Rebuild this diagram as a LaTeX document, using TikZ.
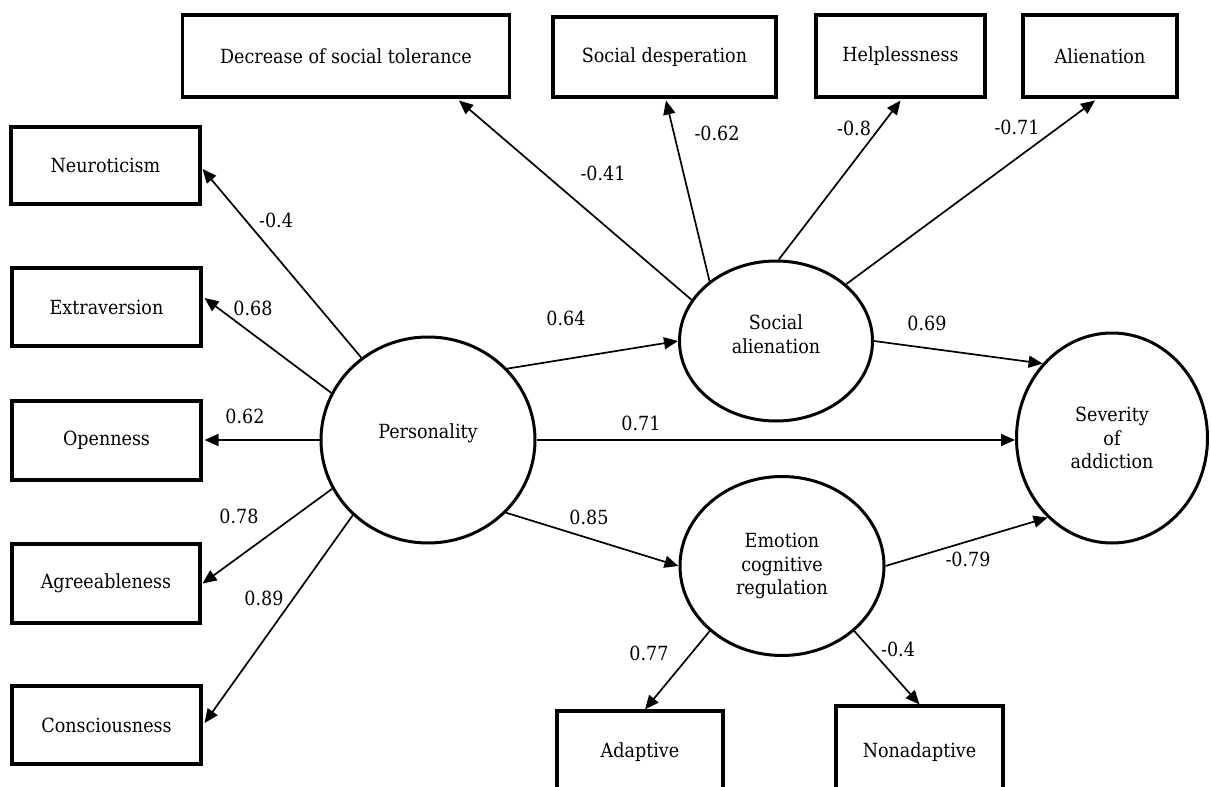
\documentclass[tikz,border=0pt]{standalone}
\usepackage{fontspec}
\setmainfont{DejaVu Serif Condensed}
\usetikzlibrary{shapes.geometric,arrows.meta,calc}
\begin{document}
\begin{tikzpicture}[x=1pt,y=-1pt,
  txt/.style={font=\fontsize{19.5}{23.5}\selectfont},
  box/.style={txt, draw, line width=3.1pt, inner sep=0pt},
  lat/.style={txt, draw, ellipse, line width=3pt, inner sep=0pt, align=center},
  arr/.style={line width=1.7pt, -{Triangle[length=14pt,width=12pt]}},
  lab/.style={txt, inner sep=0pt}]
\fill[white] (0,0) rectangle (1211,787);
\useasboundingbox (0,0) rectangle (1211,787);

% indicator boxes
\node[box, minimum width=189pt, minimum height=77pt] (neu) at (105.5,165.5) {Neuroticism};
\node[box, minimum width=189pt, minimum height=78pt] (ext) at (106.5,307) {Extraversion};
\node[box, minimum width=189pt, minimum height=79pt] (ope) at (106.5,440.5) {Openness};
\node[box, minimum width=188pt, minimum height=79pt] (agr) at (106,583.5) {Agreeableness};
\node[box, minimum width=189pt, minimum height=78pt] (con) at (106.5,725) {Consciousness};
\node[box, minimum width=327pt, minimum height=82pt] (dec) at (346,56) {Decrease of social tolerance};
\node[box, minimum width=223pt, minimum height=80pt] (sde) at (664.5,57) {Social desperation};
\node[box, minimum width=169pt, minimum height=82pt] (hel) at (900.5,56) {Helplessness};
\node[box, minimum width=154pt, minimum height=82pt] (ali) at (1100,56) {Alienation};
\node[box, minimum width=166pt, minimum height=82pt] (ada) at (640,752) {Adaptive};
\node[box, minimum width=167pt, minimum height=92pt] (non) at (919.5,752) {Nonadaptive};

% latent variables
\node[lat, minimum width=214pt, minimum height=206pt,
  label={[txt, yshift=7pt]center:Personality}] (per) at (428,440) {};
\node[lat, minimum width=193pt, minimum height=160pt,
  label={[txt, align=center, yshift=7pt]center:Social\\alienation}] (soc) at (776,341) {};
\node[lat, minimum width=204pt, minimum height=179pt] (ecr) at (782,566) {Emotion\\cognitive\\regulation};
\node[lat, minimum width=191pt, minimum height=210pt] (sev) at (1112,438) {Severity\\of\\addiction};

% personality loadings
\draw[arr] (per.129) -- ($(neu.east)+(1,3.5)$);
\draw[arr] (per.154) -- ($(ext.east)+(2,-9)$);
\draw[arr] (per.west) -- ($(per.west -| ope.east)+(2,0)$);
\draw[arr] (per.207) -- ($(agr.east)+(1,0)$);
\draw[arr] (per.225) -- ($(con.east)+(2,-2)$);

% social alienation loadings
\draw[arr] (soc.154) -- ($(dec.south)+(113,2)$);
\draw[arr] (soc.138) -- ($(sde.south)+(1.5,2)$);
\draw[arr] (soc.88) -- ($(hel.south)+(0,2)$);
\draw[arr] (soc.39) -- ($(ali.south)+(-5,2)$);

% emotion regulation loadings
\draw[arr] (ecr.222) -- ($(ada.north)+(5,0)$);
\draw[arr] (ecr.318) -- (non.north);

% structural paths
\draw[arr] (per.42) -- (soc.west);
\draw[arr] (per.east) -- (per.east -| sev.west);
\draw[arr] (per.317) -- (ecr.west);
\draw[arr] (soc.east) -- (sev.133);
\draw[arr] (ecr.east) -- (sev.231);

% coefficients
\node[lab] (l1) at (276,220) {-0.4};
\node[lab] (l2) at (253,308) {0.68};
\node[lab] (l3) at (245,416) {0.62};
\node[lab] (l4) at (239,516) {0.78};
\node[lab] (l5) at (264,598) {0.89};
\node[lab] (l6) at (566,318) {0.64};
\node[lab] (l7) at (641,423) {0.71};
\node[lab] (l8) at (589,517) {0.85};
\node[lab] (l9) at (603,173) {-0.41};
\node[lab] (l10) at (717,133) {-0.62};
\node[lab] (l11) at (854,128) {-0.8};
\node[lab] (l12) at (1017,127) {-0.71};
\node[lab] (l13) at (927,323) {0.69};
\node[lab] (l14) at (968,559) {-0.79};
\node[lab] (l15) at (649,653) {0.77};
\node[lab] (l16) at (898,649) {-0.4};
\end{tikzpicture}
\end{document}
